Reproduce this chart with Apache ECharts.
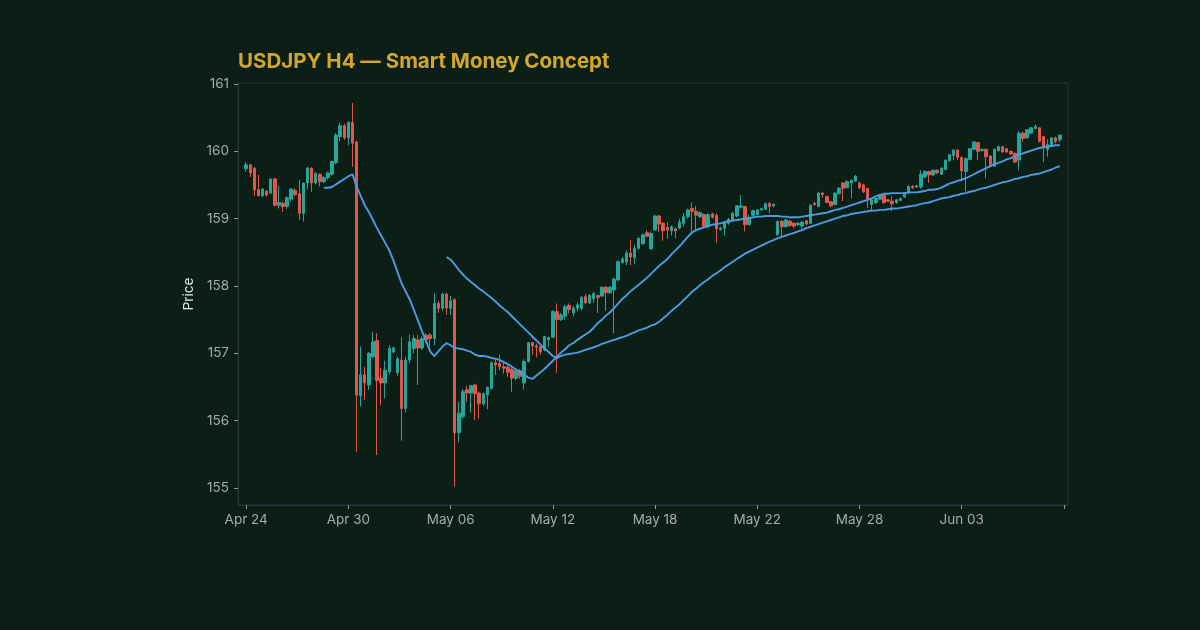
<!DOCTYPE html>
<html><head><meta charset="utf-8">
<script src="https://cdn.jsdelivr.net/npm/echarts@6/dist/echarts.min.js"></script>
<style>html,body{margin:0;padding:0;background:#0b1f17;}#c{width:1200px;height:630px;}</style>
</head><body><div id="c"></div>
<script>
const tickLabels = ['Apr 24','Apr 30','May 06','May 12','May 18','May 22','May 28','Jun 03'];
const tickEvery = 25;

const open = [
159.74,159.80,159.75,159.43,159.34,159.41,159.38,159.59,159.20,159.23,
159.18,159.29,159.42,159.37,159.08,159.53,159.75,159.53,159.66,159.55,
159.61,159.66,159.83,160.22,160.38,160.20,160.43,160.14,156.37,156.68,
156.53,156.95,157.19,156.63,156.56,156.73,157.02,156.71,156.90,156.18,
156.90,157.07,157.20,157.08,157.27,157.27,157.22,157.74,157.67,157.88,
157.67,157.80,155.82,156.06,156.46,156.41,156.53,156.41,156.25,156.38,
156.48,156.86,156.85,156.80,156.79,156.76,156.63,156.74,156.56,156.88,
157.16,157.11,157.10,157.05,157.20,157.24,157.62,157.50,157.55,157.71,
157.60,157.67,157.67,157.84,157.75,157.81,157.86,157.85,157.98,157.90,
157.94,158.09,158.35,158.36,158.49,158.42,158.56,158.63,158.79,158.55,
158.83,159.04,158.93,158.87,158.82,158.85,158.86,158.93,159.03,159.15,
159.11,159.03,159.06,158.88,159.07,159.05,158.84,158.86,158.93,158.98,
159.04,159.17,159.18,158.91,159.05,159.06,159.13,159.14,159.23,159.19,
158.76,158.96,158.88,158.96,158.93,158.91,158.89,158.97,158.93,159.23,
159.18,159.38,159.33,159.25,159.21,159.37,159.53,159.46,159.53,159.56,
159.53,159.50,159.45,159.21,159.24,159.29,159.35,159.28,159.26,159.24,
159.27,159.32,159.38,159.48,159.47,159.47,159.62,159.70,159.65,159.72,
159.66,159.73,159.86,159.94,160.02,159.91,159.70,159.88,160.03,160.13,
160.01,160.03,159.93,159.78,160.01,160.07,160.04,160.00,159.97,159.87,
160.27,160.20,160.27,160.34,160.35,160.22,160.03,160.10,160.20,160.17
];
const close = [
159.80,159.68,159.43,159.34,159.44,159.35,159.59,159.20,159.24,159.18,
159.31,159.44,159.36,159.08,159.53,159.75,159.53,159.67,159.55,159.61,
159.68,159.85,160.24,160.38,160.20,160.43,160.12,156.38,156.68,156.56,
157.00,157.17,156.60,156.56,156.75,157.07,157.08,156.92,156.18,156.90,
157.17,157.22,157.08,157.22,157.20,157.22,157.74,157.67,157.88,157.67,
157.78,155.82,156.11,156.43,156.41,156.52,156.40,156.25,156.40,156.49,
156.86,156.83,156.80,156.78,156.72,156.63,156.74,156.66,156.88,157.16,
157.11,157.09,157.02,157.25,157.23,157.62,157.50,157.57,157.69,157.65,
157.67,157.72,157.83,157.75,157.86,157.89,157.83,157.98,157.90,157.98,
158.10,158.36,158.40,158.49,158.43,158.56,158.71,158.76,158.74,158.78,
159.04,158.92,158.82,158.83,158.88,158.82,158.95,159.03,159.13,159.11,
159.05,159.09,158.88,159.06,159.02,158.85,158.86,158.94,158.99,159.08,
159.19,159.19,158.91,159.01,159.12,159.13,159.15,159.22,159.18,159.21,
158.96,158.88,158.98,158.90,158.89,158.93,158.95,158.92,159.20,159.21,
159.38,159.36,159.24,159.19,159.38,159.45,159.45,159.55,159.57,159.63,
159.46,159.40,159.29,159.28,159.30,159.35,159.24,159.26,159.22,159.28,
159.30,159.38,159.48,159.46,159.49,159.66,159.70,159.65,159.72,159.68,
159.75,159.87,159.95,160.02,159.91,159.71,159.89,160.04,160.14,160.00,
160.03,159.92,159.78,160.03,160.07,159.99,159.99,159.96,159.84,160.27,
160.19,160.32,160.35,160.37,160.15,160.06,160.10,160.20,160.15,160.24
];
const low = [
159.70,159.62,159.34,159.33,159.32,159.33,159.37,159.18,159.15,159.10,
159.14,159.26,159.33,158.98,158.96,159.44,159.40,159.51,159.48,159.53,
159.58,159.64,159.81,160.15,160.17,160.09,159.77,155.54,156.21,156.31,
156.46,156.93,155.49,156.23,156.33,156.69,157.00,156.66,155.70,156.12,
156.85,157.00,156.53,157.05,157.15,157.10,157.12,157.60,157.63,157.57,
157.57,155.02,155.68,156.03,156.28,156.12,156.01,156.03,156.22,156.17,
156.46,156.68,156.75,156.70,156.65,156.43,156.60,156.62,156.46,156.86,
156.98,156.94,156.98,157.03,157.09,157.23,156.71,157.48,157.50,157.59,
157.55,157.62,157.64,157.73,157.73,157.75,157.60,157.84,157.63,157.88,
157.30,158.07,158.33,158.31,158.31,158.32,158.54,158.61,158.72,158.55,
158.83,158.80,158.67,158.70,158.75,158.71,158.84,158.88,159.00,158.78,
158.83,159.01,158.86,158.86,159.00,158.64,158.82,158.75,158.91,158.96,
159.02,159.15,158.81,158.91,159.03,159.05,159.12,159.13,159.08,159.17,
158.75,158.74,158.87,158.88,158.86,158.89,158.84,158.90,158.92,159.19,
159.17,159.31,159.23,159.17,159.20,159.36,159.26,159.45,159.30,159.55,
159.44,159.38,159.16,159.13,159.22,159.28,159.22,159.25,159.11,159.22,
159.26,159.31,159.37,159.44,159.46,159.45,159.60,159.53,159.63,159.66,
159.65,159.72,159.85,159.87,159.87,159.55,159.40,159.87,160.02,159.87,
160.00,159.60,159.77,159.77,160.00,159.98,159.98,159.95,159.83,159.72,
160.14,160.19,160.26,160.33,160.13,159.84,159.92,160.08,160.12,160.14
];
const high = [
159.84,159.81,159.77,159.65,159.45,159.42,159.60,159.60,159.49,159.25,
159.33,159.45,159.45,159.57,159.53,159.77,159.76,159.69,159.67,159.63,
159.70,159.86,160.27,160.43,160.41,160.45,160.72,160.16,157.10,156.80,
157.02,157.32,157.30,156.78,156.89,157.12,157.10,156.95,157.24,156.95,
157.28,157.27,157.27,157.25,157.30,157.30,157.89,157.78,157.90,157.90,
157.85,157.82,156.28,156.47,156.52,156.53,156.55,156.43,156.42,156.51,
156.88,156.91,156.98,156.86,156.82,156.79,156.76,156.77,156.91,157.17,
157.17,157.14,157.14,157.26,157.25,157.64,157.74,157.60,157.72,157.74,
157.70,157.76,157.85,157.88,157.88,157.91,157.87,158.00,158.00,158.00,
158.13,158.38,158.43,158.53,158.68,158.61,158.72,158.78,158.83,158.81,
159.06,159.06,158.95,158.95,158.90,158.87,159.00,159.08,159.15,159.24,
159.19,159.11,159.08,159.08,159.09,159.08,158.88,158.96,159.01,159.10,
159.20,159.35,159.19,159.06,159.13,159.14,159.16,159.24,159.24,159.23,
158.97,158.98,159.00,158.98,158.95,158.95,158.96,158.98,159.21,159.25,
159.39,159.40,159.34,159.26,159.39,159.47,159.54,159.57,159.58,159.65,
159.55,159.52,159.46,159.30,159.31,159.37,159.37,159.29,159.33,159.29,
159.31,159.39,159.49,159.50,159.50,159.72,159.72,159.71,159.73,159.73,
159.76,159.88,159.96,160.03,160.03,159.92,159.91,160.05,160.15,160.14,
160.04,160.04,159.94,160.04,160.08,160.08,160.05,160.01,159.98,160.30,
160.29,160.33,160.36,160.40,160.36,160.23,160.18,160.21,160.22,160.25
];

const ma20Start = 19;
const ma20 = [
159.46,159.46,159.47,159.51,159.55,159.59,159.63,159.66,159.48,159.34,159.20,
159.10,158.98,158.86,158.75,158.64,158.53,158.38,158.21,158.04,157.92,
157.80,157.65,157.49,157.33,157.18,157.03,156.96,157.03,157.10,157.15,
157.12,157.08,157.07,157.06,157.04,157.02,156.98,156.96,156.96,156.95,
156.93,156.92,156.90,156.87,156.84,156.80,156.76,156.72,156.68,156.64,
156.62,156.67,156.72,156.77,156.83,156.89,156.95,157.01,157.06,157.12,
157.15,157.20,157.24,157.28,157.32,157.38,157.45,157.50,157.56,157.61,
157.67,157.74,157.81,157.86,157.92,157.97,158.02,158.07,158.12,158.18,
158.24,158.30,158.35,158.40,158.47,158.53,158.59,158.66,158.73,158.79,
158.83,158.85,158.87,158.89,158.91,158.92,158.93,158.95,158.96,158.97,
158.98,158.99,159.00,159.01,159.02,159.03,159.03,159.04,159.04,159.04,
159.04,159.03,159.03,159.02,159.02,159.02,159.03,159.04,159.05,159.06,
159.07,159.08,159.09,159.11,159.13,159.14,159.16,159.18,159.20,159.22,
159.24,159.26,159.28,159.30,159.33,159.35,159.37,159.37,159.38,159.38,
159.38,159.38,159.39,159.39,159.39,159.40,159.41,159.43,159.43,159.44,
159.46,159.49,159.52,159.54,159.56,159.58,159.60,159.63,159.66,159.69,
159.72,159.75,159.78,159.81,159.83,159.85,159.88,159.90,159.93,159.95,
159.97,159.99,160.01,160.03,160.05,160.06,160.07,160.08,160.09,160.09
];
const ma50Start = 49;
const ma50 = [
158.43,
158.39,158.32,158.24,158.17,158.11,158.06,158.01,157.96,157.92,157.87,
157.82,157.77,157.71,157.66,157.61,157.55,157.49,157.43,157.37,157.31,
157.25,157.19,157.13,157.07,157.02,156.96,156.93,156.96,156.98,156.99,
157.00,157.01,157.03,157.05,157.07,157.09,157.11,157.14,157.16,157.18,
157.20,157.22,157.24,157.26,157.29,157.31,157.34,157.36,157.38,157.41,
157.43,157.47,157.52,157.57,157.63,157.68,157.73,157.79,157.85,157.91,
157.96,158.01,158.06,158.10,158.15,158.19,158.23,158.28,158.32,158.36,
158.40,158.44,158.48,158.51,158.54,158.57,158.60,158.63,158.66,158.68,
158.71,158.73,158.75,158.77,158.79,158.81,158.83,158.86,158.88,158.90,
158.92,158.94,158.96,158.98,159.00,159.02,159.04,159.05,159.07,159.08,
159.09,159.10,159.11,159.12,159.12,159.13,159.13,159.14,159.15,159.15,
159.16,159.17,159.18,159.19,159.20,159.22,159.23,159.24,159.26,159.28,
159.30,159.31,159.32,159.34,159.35,159.37,159.38,159.40,159.41,159.43,
159.45,159.46,159.48,159.50,159.52,159.54,159.55,159.57,159.59,159.60,
159.62,159.63,159.65,159.66,159.67,159.69,159.71,159.73,159.76,159.78
];
const yTicks = [155, 156, 157, 158, 159, 160, 161];

const PAD = 2;
const nCat = open.length + 2 * PAD;
const categories = Array.from({length: nCat}, (_, k) => String(k - PAD));
const candles = open.map((o, i) => [i + PAD, o, close[i], low[i], high[i]]);
const line20 = ma20.map((v, k) => [k + ma20Start + PAD, v]);
const line50 = ma50.map((v, k) => [k + ma50Start + PAD, v]);
const isTick = (index) => { const i = index - PAD; return i >= 0 && i % tickEvery === 0; };

const FRAME = '#22353a';
const TXT = '#a3adaa';
const UP = '#26a69a', DOWN = '#e0574c', MA = '#4f9ae0';
const FONT = 'Inter';

const chart = echarts.init(document.getElementById('c'), null, {renderer: 'canvas'});
chart.setOption({
  backgroundColor: '#0b1f17',
  animation: false,
  title: {
    text: 'USDJPY H4 \u2014 Smart Money Concept',
    left: 238, top: 51, padding: 0,
    textStyle: {color: '#d4a72b', fontSize: 20.5, fontWeight: 'bold', fontFamily: FONT}
  },
  grid: {left: 238, right: 132, top: 83, bottom: 125, show: true, borderColor: FRAME, borderWidth: 1, backgroundColor: 'transparent'},
  xAxis: {
    type: 'category', data: categories, boundaryGap: false,
    axisLine: {show: true, lineStyle: {color: FRAME}},
    axisTick: {show: true, interval: isTick, length: 4, lineStyle: {color: '#8e9995'}},
    axisLabel: {interval: isTick, color: TXT, fontSize: 13.5, fontFamily: FONT, margin: 8,
      formatter: (val) => { const i = +val; return (i >= 0 && i % tickEvery === 0 && tickLabels[i / tickEvery]) ? tickLabels[i / tickEvery] : ''; }},
    splitLine: {show: false}
  },
  yAxis: {
    type: 'value', min: 154.747, max: 161.015, scale: true,
    name: 'Price', nameLocation: 'middle', nameGap: 41,
    nameTextStyle: {color: '#e2e8e5', fontSize: 13.5, fontFamily: FONT},
    axisLine: {show: true, lineStyle: {color: FRAME}},
    axisTick: {show: true, customValues: yTicks, length: 4, lineStyle: {color: '#8e9995'}},
    axisLabel: {customValues: yTicks, color: TXT, fontSize: 13.5, fontFamily: FONT, margin: 9, formatter: (v) => String(Math.round(v))},
    splitLine: {show: false}
  },
  series: [
    {
      type: 'candlestick', data: candles, encode: {x: 0, y: [1, 2, 3, 4]},
      barWidth: 3,
      itemStyle: {color: UP, color0: DOWN, borderColor: UP, borderColor0: DOWN, borderWidth: 1}
    },
    {type: 'line', data: line20, symbol: 'none', lineStyle: {color: MA, width: 1.9}, z: 3},
    {type: 'line', data: line50, symbol: 'none', lineStyle: {color: MA, width: 1.9}, z: 3}
  ]
});
</script></body></html>
